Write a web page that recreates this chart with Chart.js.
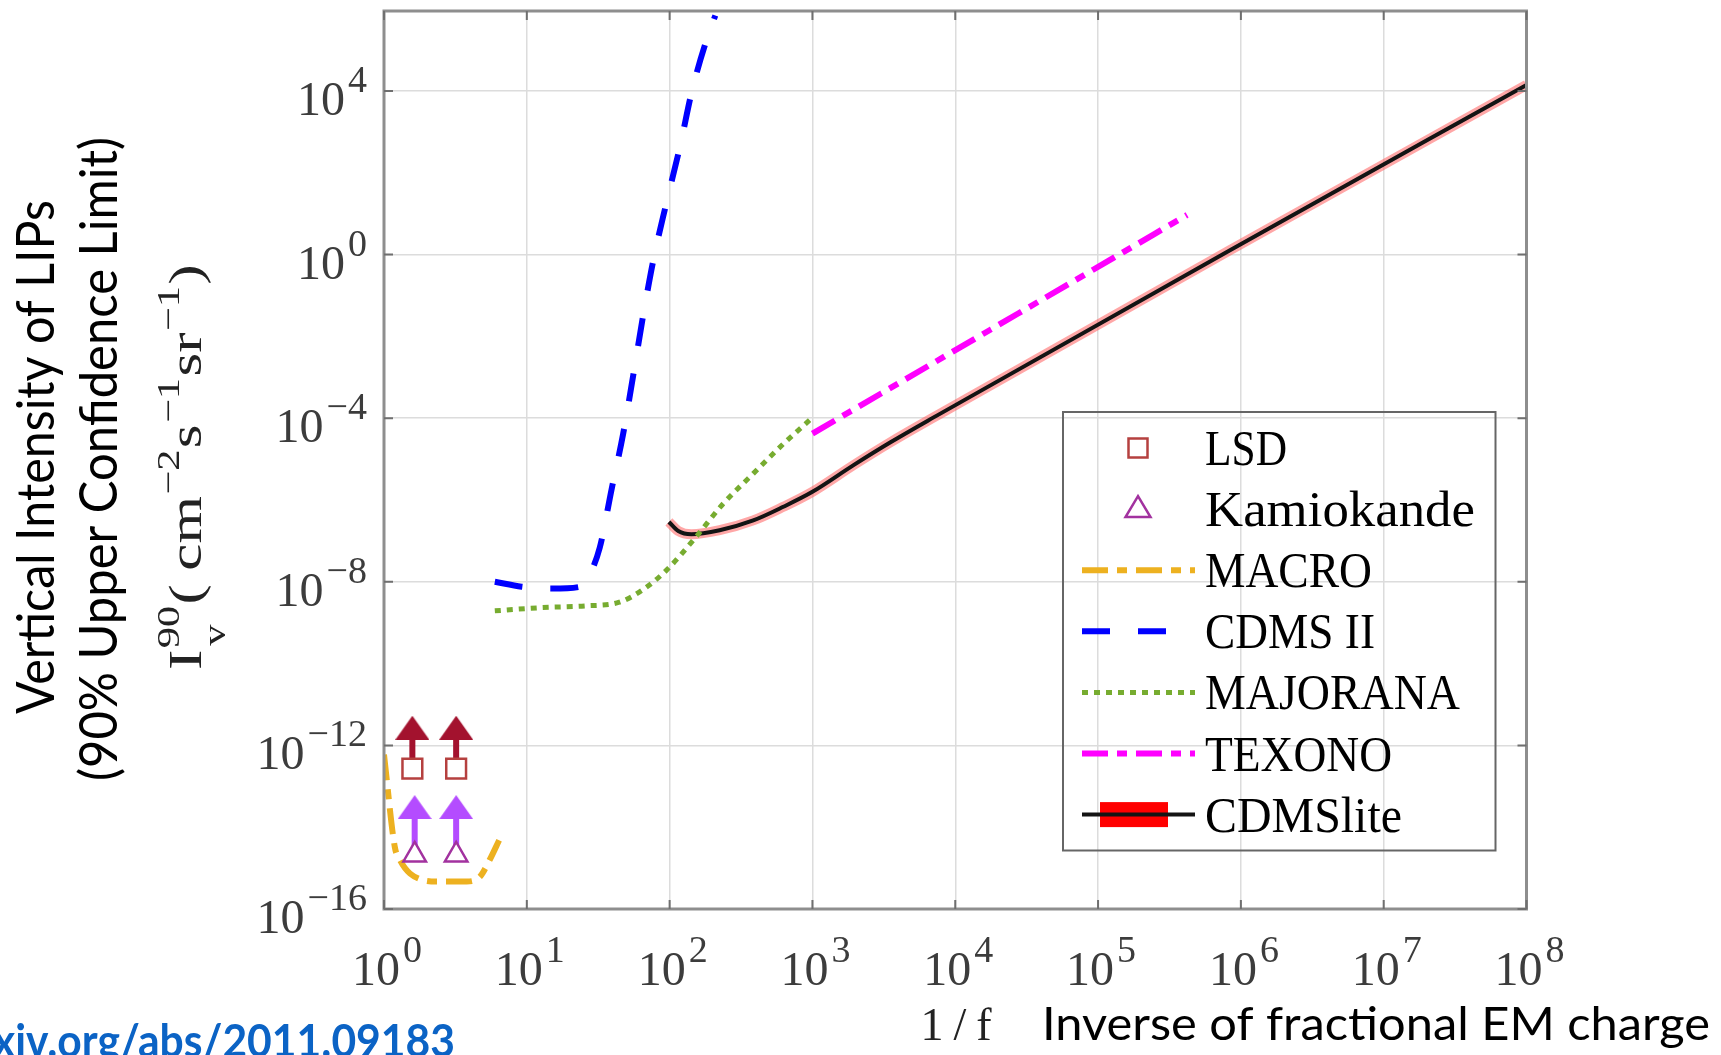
<!DOCTYPE html>
<html>
<head>
<meta charset="utf-8">
<title>Vertical intensity of LIPs</title>
<script src="https://cdn.jsdelivr.net/npm/chart.js@4.4.1/dist/chart.umd.min.js"></script>
<style>
  html, body { margin:0; padding:0; background:#fff; }
  canvas { display:block; }
</style>
</head>
<body>
<canvas id="chart" width="1721" height="1055"></canvas>
<script>
// === 1) Data ===
const xTickExp = [0, 1, 2, 3, 4, 5, 6, 7, 8];
const yTickExp = [-16, -12, -8, -4, 0, 4];
const legendLabels = ['LSD', 'Kamiokande', 'MACRO', 'CDMS II', 'MAJORANA', 'TEXONO', 'CDMSlite'];

const macroX = [1.0, 1.19, 1.29, 1.52, 2.34, 3.8, 4.7, 5.5, 6.4];
const macroY = [6.0e-13, 3.3e-15, 1.6e-15, 7.4e-16, 4.7e-16, 4.7e-16, 6.2e-16, 1.6e-15, 4.8e-15];

const cdmsX = [5.97, 9.2, 15.0, 23.8, 26.3, 32.4, 39.2, 47.3, 55.7, 64.9, 77.1, 94.6, 118, 144, 187, 209];
const cdmsY = [1.0e-8, 7.6e-9, 6.8e-9, 7.6e-9, 1.1e-8, 6.8e-8, 1.8e-6, 4.2e-5, 1.15e-3, 2.9e-2, 0.76, 17.4, 427, 1.07e4, 2.45e5, 7.0e5];

const majX = [5.97, 12.8, 25.7, 44.4, 64.6, 94.8, 150, 237, 385, 625, 955];
const majY = [1.95e-9, 2.34e-9, 2.57e-9, 3.16e-9, 6.3e-9, 1.9e-8, 1.15e-7, 8.1e-7, 4.4e-6, 2.34e-5, 8.9e-5];

const texX = [1000, 4.2e5];
const texY = [4.2e-5, 9.3];

const liteX = [98.8, 115, 142, 224, 385, 625, 1000, 1940, 3520, 7480, 8.45e5, 1e8];
const liteY = [2.9e-7, 1.74e-7, 1.45e-7, 1.82e-7, 3.16e-7, 6.8e-7, 1.58e-6, 7.1e-6, 2.57e-5, 1.17e-4, 1.3, 1.4e4];

const lsdX = [1.58, 3.2];
const lsdY = [2.7e-13, 2.7e-13];
const lsdArrowY = [2.7e-12, 2.7e-12];

const kamX = [1.64, 3.2];
const kamY = [2.1e-15, 2.1e-15];
const kamArrowY = [3.1e-14, 3.1e-14];

// === 2) Helpers ===
const pts = (xs, ys) => xs.map((x, i) => ({ x, y: ys[i] }));

// vertical arrow stems, one segment per marker, split by a null point
function stems(xs, y0, y1){
  const out = [];
  xs.forEach((x, i) => {
    if (i) out.push({ x, y: null });
    out.push({ x, y: y0[i] }, { x, y: y1[i] });
  });
  return out;
}

function makeHead(color){
  const c = document.createElement('canvas');
  c.width = 34; c.height = 24;
  const g = c.getContext('2d');
  g.fillStyle = color;
  g.beginPath();
  g.moveTo(17, 0); g.lineTo(34, 24); g.lineTo(0, 24);
  g.closePath(); g.fill();
  return c;
}

function fitText(ctx, text, x, y, width, align){
  const w = ctx.measureText(text).width;
  ctx.save();
  ctx.translate(x, y);
  ctx.scale(width / w, 1);
  ctx.textAlign = align || 'left';
  ctx.fillText(text, 0, 0);
  ctx.restore();
}

const SERIF = '"Liberation Serif", "DejaVu Serif", serif';
const SANS  = 'Lato, "Open Sans", sans-serif';

// "10" with a raised exponent
function powLabel(ctx, exp, x, y, align){
  const e = String(exp).replace('-', '\u2212');
  ctx.font = '48px ' + SERIF;
  const wb = ctx.measureText('10').width;
  ctx.font = '38px ' + SERIF;
  const we = ctx.measureText(e).width;
  const total = wb + 3 + we;
  let x0 = x;
  if (align === 'right') x0 = x - total;
  if (align === 'center') x0 = x - total / 2;
  ctx.textAlign = 'left';
  ctx.font = '48px ' + SERIF;
  ctx.fillText('10', x0, y);
  ctx.font = '38px ' + SERIF;
  ctx.fillText(e, x0 + wb + 3, y - 23);
}

// === 3) Colours ===
const C = {
  macro: '#EDB120', cdms: '#0000FF', maj: '#77AC30', tex: '#FF00FF',
  lite: '#141414', band: 'rgba(255,95,95,0.55)', bandLegend: '#FF0000',
  lsd: '#B5403F', lsdArrow: '#A3122E', kam: '#A2329F', kamArrow: '#B44CFF',
  grid: '#dcdcdc', frame: '#8e8e8e', tick: '#3c3c3c'
};

const DASH = {
  macro: [26, 9, 10, 9],
  cdms:  [28, 28],
  maj:   [6, 6],
  tex:   [26, 9, 10, 9]
};

// legend text widths as they appear in the figure
const legendTextW = [82, 270, 167, 170, 255, 187, 197];

// === 4) Decorations: frame, tick labels, titles, legend ===
const decor = {
  id: 'decor',
  afterDatasetsDraw(chart){
    const { ctx, chartArea: a, scales: { x, y } } = chart;
    ctx.save();

    // frame + inward ticks
    ctx.strokeStyle = C.frame; ctx.lineWidth = 3;
    ctx.strokeRect(a.left, a.top, a.right - a.left, a.bottom - a.top);
    ctx.strokeStyle = '#6f6f6f'; ctx.lineWidth = 2;
    ctx.beginPath();
    xTickExp.forEach(e => {
      const px = x.getPixelForValue(10 ** e);
      ctx.moveTo(px, a.top); ctx.lineTo(px, a.top + 9);
      ctx.moveTo(px, a.bottom); ctx.lineTo(px, a.bottom - 9);
    });
    yTickExp.forEach(e => {
      const py = y.getPixelForValue(10 ** e);
      ctx.moveTo(a.left, py); ctx.lineTo(a.left + 9, py);
      ctx.moveTo(a.right, py); ctx.lineTo(a.right - 9, py);
    });
    ctx.stroke();

    // tick labels
    ctx.fillStyle = C.tick;
    ctx.textBaseline = 'alphabetic';
    yTickExp.forEach(e => powLabel(ctx, e, a.left - 17, y.getPixelForValue(10 ** e) + 24, 'right'));
    xTickExp.forEach(e => powLabel(ctx, e, x.getPixelForValue(10 ** e) + 3, 985, 'center'));

    // x title
    ctx.fillStyle = '#222';
    ctx.font = '46px ' + SERIF;
    ctx.textAlign = 'center';
    ctx.fillText('1', 932, 1040);
    ctx.fillText('/', 960, 1040);
    ctx.fillText('f', 984, 1040);
    ctx.textAlign = 'left';
    ctx.fillStyle = '#000';
    ctx.font = '47px ' + SANS;
    fitText(ctx, 'Inverse of fractional EM charge', 1042, 1040, 668);

    // y titles (rotated)
    ctx.save();
    ctx.translate(54, 714); ctx.rotate(-Math.PI / 2);
    ctx.font = '53px ' + SANS;
    fitText(ctx, 'Vertical Intensity of LIPs', 0, 0, 514);
    ctx.restore();
    ctx.save();
    ctx.translate(117, 781); ctx.rotate(-Math.PI / 2);
    ctx.font = '53px ' + SANS;
    fitText(ctx, '(90% Upper Confidence Limit)', 0, 0, 644);
    ctx.restore();

    // math label  I_v^90 ( cm^-2 s^-1 sr^-1 )
    const parts = [
      { t: 'I', s: 46, dv: 0 },
      { t: '90', s: 32, dv: -22, sub: 'v' },
      { t: '(\u2009', s: 46, dv: 0 },
      { t: 'cm', s: 46, dv: 0 },
      { t: '\u22122', s: 32, dv: -22 },
      { t: 's', s: 46, dv: 0 },
      { t: '\u22121', s: 32, dv: -22 },
      { t: 'sr', s: 46, dv: 0 },
      { t: '\u22121', s: 32, dv: -22 },
      { t: ')', s: 46, dv: 0 }
    ];
    let tot = 0;
    parts.forEach(p => { ctx.font = p.s + 'px ' + SERIF; p.w = ctx.measureText(p.t).width; tot += p.w + 1; });
    ctx.save();
    ctx.translate(201, 670); ctx.rotate(-Math.PI / 2);
    ctx.scale(407 / tot, 1);
    ctx.fillStyle = '#222';
    let u = 0;
    parts.forEach(p => {
      ctx.font = p.s + 'px ' + SERIF;
      ctx.fillText(p.t, u, p.dv);
      if (p.sub) ctx.fillText(p.sub, u + 2, 24);
      u += p.w + 1;
    });
    ctx.restore();

    // link, partly cut by the page edge
    ctx.fillStyle = '#0B63C5';
    ctx.font = 'bold 46px ' + SANS;
    const wl = ctx.measureText('xiv.org/abs/2011.09183').width;
    const sl = 462 / wl;
    ctx.save();
    ctx.translate(455, 1057); ctx.scale(sl, 1);
    ctx.textAlign = 'right';
    ctx.fillText('arxiv.org/abs/2011.09183', 0, 0);
    ctx.restore();

    // legend
    const L = { left: 1063, top: 412, right: 1495.5, bottom: 850.5 };
    ctx.strokeStyle = '#666'; ctx.lineWidth = 2;
    ctx.strokeRect(L.left, L.top, L.right - L.left, L.bottom - L.top);
    const base0 = 465, step = 61.1, x0 = 1082, x1 = 1195, mx = 1138;
    legendLabels.forEach((lab, i) => {
      const bl = base0 + i * step, my = bl - 17;
      ctx.save();
      ctx.lineCap = 'butt';
      if (i === 0){
        ctx.fillStyle = '#fff'; ctx.strokeStyle = C.lsd; ctx.lineWidth = 2.5;
        ctx.fillRect(mx - 9.5, my - 9.5, 19, 19); ctx.strokeRect(mx - 9.5, my - 9.5, 19, 19);
      } else if (i === 1){
        ctx.strokeStyle = C.kam; ctx.lineWidth = 2.5;
        ctx.beginPath(); ctx.moveTo(mx, my - 13); ctx.lineTo(mx + 12.5, my + 8); ctx.lineTo(mx - 12.5, my + 8); ctx.closePath(); ctx.stroke();
      } else if (i === 6){
        ctx.fillStyle = C.bandLegend; ctx.fillRect(1100, my - 12.5, 68, 25);
        ctx.strokeStyle = C.lite; ctx.lineWidth = 4;
        ctx.beginPath(); ctx.moveTo(x0, my); ctx.lineTo(x1, my); ctx.stroke();
      } else {
        const key = ['macro', 'cdms', 'maj', 'tex'][i - 2];
        ctx.strokeStyle = C[key]; ctx.lineWidth = key === 'maj' ? 5 : 6;
        ctx.setLineDash(DASH[key]);
        ctx.beginPath(); ctx.moveTo(x0, my); ctx.lineTo(x1 + (key === 'cdms' ? -15 : 0), my); ctx.stroke();
      }
      ctx.restore();
      ctx.fillStyle = '#000';
      ctx.font = '50px ' + SERIF;
      fitText(ctx, lab, 1205, bl, legendTextW[i]);
    });

    ctx.restore();
  }
};

// === 5) Chart ===
const lineDs = (label, xs, ys, color, width, dash) => ({
  label, data: pts(xs, ys), borderColor: color, borderWidth: width, borderDash: dash || [],
  pointRadius: 0, fill: false, cubicInterpolationMode: 'monotone'
});

const datasets = [
  { label: 'LSD', data: pts(lsdX, lsdY), showLine: false, pointStyle: 'rect', pointRadius: 14,
    pointBorderWidth: 2.5, pointBorderColor: C.lsd, pointBackgroundColor: '#fff' },
  { label: 'Kamiokande', data: pts(kamX, kamY), showLine: false, pointStyle: 'triangle', pointRadius: 13,
    pointBorderWidth: 2.5, pointBorderColor: C.kam, pointBackgroundColor: '#fff' },
  { label: 'LSD head', data: pts(lsdX, lsdArrowY), showLine: false, pointStyle: makeHead(C.lsdArrow), pointRadius: 12 },
  { label: 'Kam head', data: pts(kamX, kamArrowY), showLine: false, pointStyle: makeHead(C.kamArrow), pointRadius: 12 },
  { label: 'LSD stem', data: stems(lsdX, lsdY, lsdArrowY), borderColor: C.lsdArrow, borderWidth: 6, pointRadius: 0, tension: 0, spanGaps: false },
  { label: 'Kam stem', data: stems(kamX, kamY, kamArrowY), borderColor: C.kamArrow, borderWidth: 6, pointRadius: 0, tension: 0, spanGaps: false },
  lineDs('MACRO', macroX, macroY, C.macro, 6, DASH.macro),
  lineDs('CDMS II', cdmsX, cdmsY, C.cdms, 6, DASH.cdms),
  lineDs('MAJORANA', majX, majY, C.maj, 5, DASH.maj),
  lineDs('TEXONO', texX, texY, C.tex, 6, DASH.tex),
  lineDs('CDMSlite', liteX, liteY, C.lite, 4),
  lineDs('CDMSlite band', liteX, liteY, C.band, 10)
];

const ctx = document.getElementById('chart');
const chart = new Chart(ctx, {
  type: 'line',
  data: { datasets },
  options: {
    responsive: false,
    animation: false,
    events: [],
    layout: { autoPadding: false, padding: { left: 384, right: 194.5, top: 11, bottom: 146 } },
    plugins: { legend: { display: false }, tooltip: { enabled: false } },
    scales: {
      x: {
        type: 'logarithmic', min: 1, max: 1e8,
        afterBuildTicks: s => { s.ticks = xTickExp.map(e => ({ value: 10 ** e })); },
        ticks: { display: false },
        grid: { color: C.grid, lineWidth: 1.5, drawTicks: false },
        border: { display: false }
      },
      y: {
        type: 'logarithmic', min: 1e-16, max: 9e5,
        afterBuildTicks: s => { s.ticks = yTickExp.map(e => ({ value: 10 ** e })); },
        ticks: { display: false },
        grid: { color: C.grid, lineWidth: 1.5, drawTicks: false },
        border: { display: false }
      }
    }
  },
  plugins: [decor]
});
</script>
</body>
</html>
